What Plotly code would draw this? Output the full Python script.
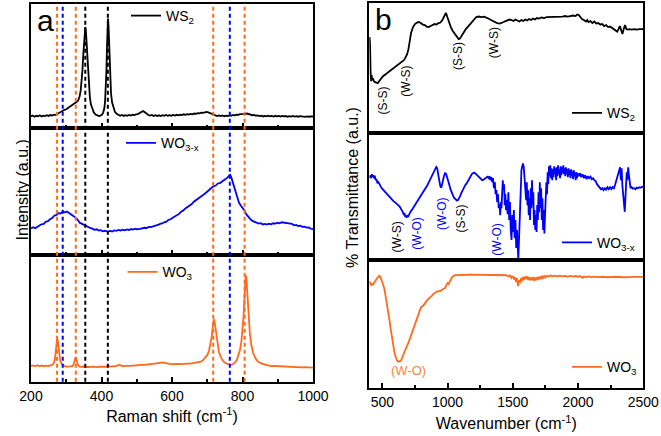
import plotly.graph_objects as go

W, H = 661, 436
ORANGE = "#FF6A1C"
BLUE = "#0000FF"
BLACK = "#000000"
FONT = "Arial, Liberation Sans, sans-serif"

# ---------------- Panel a : Raman (x = Raman shift cm-1, y = intensity a.u.) ----------------
ws2_raman = [(200,12),(205,12.8),(210,11.6),(215,12.5),(220,12.1),(225,13),(230,11.8),(235,12.6),(240,12.2),(245,13.1),
    (250,12.4),(255,13.3),(260,12.8),(265,13.6),(270,13.4),(275,14.5),(280,15.2),(285,16.4),(290,17.2),(295,18.5),
    (300,19.1),(305,20.3),(310,21),(315,22.4),(320,23.2),(325,24.8),(330,26.5),(334,28),(338,32),(341,38),(344,48),
    (346,58),(348,72),(350,86),(352,97),(354,101.5),(356,96),(358,82),(360,66),(362,52),(364,41),(367,31),(370,24),
    (374,19),(378,16),(383,13.8),(388,12.6),(393,12.2),(398,12.8),(402,14),(405,16),(408,20),(410,26),(412,38),(414,58),
    (415.5,80),(417,100),(418.5,110),(420,102),(421.5,86),(423,66),(425,48),(427,35),(430,26),(434,20),(438,16.5),
    (443,14.5),(448,13.2),(453,12.6),(458,13.3),(463,12.4),(468,13.1),(473,12.5),(478,13.4),(483,12.8),(488,13.6),
    (493,13.2),(498,13.9),(503,14.2),(508,15.3),(513,16.4),(518,17.2),(523,16),(528,14.4),(533,13.3),(538,12.7),
    (543,13.4),(548,12.4),(553,13.1),(558,12.3),(563,13),(568,12.2),(573,13.1),(578,12.5),(583,13.3),(588,12.6),
    (593,13.2),(598,12.5),(603,13.4),(608,12.8),(613,13.5),(618,13),(623,13.7),(628,13.2),(633,14),(638,13.5),
    (643,14.2),(648,13.7),(653,14.4),(658,14),(663,14.8),(668,14.4),(673,15.2),(678,14.9),(683,15.6),(688,15.4),
    (693,16.2),(698,16.4),(703,16),(708,15.2),(713,14.1),(718,13.2),(723,12.8),(728,12.3),(733,12.9),(738,12.2),
    (743,12.8),(748,12.1),(753,12.7),(758,12.2),(763,12.9),(768,12.6),(773,13.3),(778,13),(783,13.7),(788,13.4),
    (793,14.1),(798,14),(803,14.6),(808,14.4),(813,14.8),(818,14.2),(823,13.8),(828,13.1),(833,13.4),(838,12.6),
    (843,12.9),(848,12.2),(853,12.6),(858,11.9),(863,12.5),(868,12),(873,12.6),(878,11.9),(883,12.4),(888,11.8),
    (893,12.5),(898,12),(903,12.3),(908,11.7),(913,12.4),(918,11.9),(923,12.3),(928,11.6),(933,12.2),(938,11.8),
    (943,12.3),(948,11.7),(953,12.1),(958,11.6),(963,12.2),(968,11.8),(973,12.1),(978,11.5),(983,12),(988,11.6),
    (993,12),(998,11.5),(1000,11.8)]

wo3x_raman = [(200,26.5),(206,27.8),(212,26.9),(218,28.6),(224,29.5),(230,30.8),(236,31.2),(242,33.4),(248,34),
    (254,35.8),(260,37.1),(266,39.4),(272,40.2),(278,42),(284,41.6),(290,43.4),(296,42.8),(302,43.5),(308,41.7),
    (314,40.6),(320,39.2),(326,37.3),(332,35.6),(338,32.4),(344,31.2),(350,29.9),(356,29),(362,27.8),(368,27.1),
    (374,26.4),(380,25.2),(386,25.8),(392,24.6),(398,24.9),(404,23.8),(410,24.3),(418,23.3),(424,24.1),(430,23.6),
    (436,24.6),(442,24.2),(448,25.1),(454,24.4),(460,25.3),(466,24.7),(472,25.6),(478,25.1),(484,26),(490,25.4),
    (496,26.3),(502,25.8),(509,26.2),(516,26.9),(522,27.3),(528,27.1),(534,28.2),(540,28),(547,28.6),(554,29.6),
    (560,30.1),(566,31.2),(572,31.6),(578,32.8),(584,33.4),(590,35.2),(596,35.8),(602,37.4),(608,38.6),(614,40.1),
    (620,41.2),(626,43.4),(632,44.6),(638,46.7),(644,48.1),(650,49.5),(656,51),(662,53.4),(668,54.8),(674,56.9),
    (680,57.6),(686,59.8),(692,61.2),(698,62.9),(704,64.6),(710,66.1),(717,68.8),(724,69.6),(730,71.7),(736,72.1),
    (741,73.3),(746,74.8),(750,75.4),(754,77.2),(758,77.8),(762,79.6),(765,80.4),(768,78),(771,74.6),(774,71.4),
    (778,66.2),(782,61),(786,56),(790,52.4),(795,49.6),(800,47.1),(805,45),(810,41.2),(815,38.7),(821,36.5),
    (827,34.4),(833,33.6),(840,32.2),(846,31.5),(852,31.9),(858,30.6),(864,31.1),(869,30.5),(875,31.3),(881,30.8),
    (887,31.8),(893,31.4),(899,32.3),(905,31.7),(911,32.8),(916,32.5),(922,31.6),(928,32),(934,30.9),(940,31.2),
    (946,29.8),(952,30.1),(958,29.1),(964,29.4),(970,28.2),(976,28.5),(982,27.4),(988,27.6),(994,26.3),(1000,25.8)]

wo3_raman = [(200,15.7),(206,16.3),(212,15.4),(218,16.6),(224,15.6),(230,16.2),(236,15.5),(242,16.1),(248,15.6),
    (254,16),(258,16.6),(262,17.3),(265,19),(268,23),(270,29),(272,37),(274,43.3),(276,41),(278,33),(280,26),
    (283,21),(286,18.2),(290,16.6),(295,15.5),(300,15.2),(305,15),(310,15.3),(315,15.4),(319,16.2),(322,18.5),
    (324,21.5),(326,24.3),(328,23),(330,20),(333,17),(337,15.3),(342,14.8),(348,15.2),(354,14.7),(360,15),
    (366,14.6),(372,15.1),(378,14.8),(384,15.2),(390,14.7),(396,15.1),(402,14.9),(408,15.4),(414,15),(420,15.6),
    (426,15.1),(432,15.6),(438,15.4),(444,16.2),(450,17),(455,16.4),(460,15.5),(466,15.8),(472,15.6),(478,16.1),
    (484,15.9),(490,16.4),(496,16.1),(502,16.6),(508,16.4),(514,16.8),(520,16.9),(526,17.3),(532,17.2),(538,17.6),
    (544,17.9),(550,18.1),(556,18.3),(562,18.8),(568,19.2),(574,19.4),(580,18.8),(586,18.1),(592,17.8),(598,17.6),
    (604,17.9),(610,17.5),(616,17.8),(622,17.6),(628,17.9),(634,18),(640,17.9),(646,18.2),(652,18.1),(658,18.4),
    (664,18.6),(670,18.9),(676,19.3),(682,20.2),(688,21.6),(694,23.6),(700,26.6),(705,31),(709,37),(712,44),
    (715,53),(717,59),(719,62.7),(721,60),(723,54),(726,45),(729,37),(733,30),(738,25),(744,21),(750,19),
    (757,17.6),(765,16.8),(772,17.4),(778,19),(784,22),(789,26.5),(793,32),(797,41),(800,51),(803,66),(805,80),
    (807,95),(809,106.7),(811,104),(813,93),(815,79),(818,62),(821,48),(825,37),(830,29),(836,24),(843,20.5),
    (851,18.6),(860,17.4),(869,16.6),(878,16),(887,15.8),(896,15.5),(905,15.6),(914,15.2),(923,15.3),(932,14.9),
    (941,15),(950,14.7),(959,14.8),(968,14.4),(977,14.6),(986,14.2),(994,14.3),(1000,14.1)]

raman_ref_shift = [274, 327, 717, 806, 290, 764, 354, 418]
raman_ref_color = [ORANGE, ORANGE, ORANGE, ORANGE, BLUE, BLUE, BLACK, BLACK]

# ---------------- Panel b : FTIR (x = wavenumber cm-1, y = % transmittance a.u.) ----------------
ws2_ftir = [(402,96),(406,88),(410,60),(414,52),(418,58),(422,53),(428,55),(435,52),(445,51),(455,50.5),(465,50),
    (475,52),(490,55),(505,57),(520,58.5),(535,60),(550,61),(565,63),(580,64),(595,66),(610,67),(625,69),(640,70),
    (655,72),(665,73),(675,75),(690,79),(700,84),(710,93),(720,100),(735,106),(750,109),(765,110.5),(780,111),
    (795,110),(810,108.5),(825,108),(840,106.5),(855,106),(870,107),(885,108.5),(900,109),(915,108.5),(930,110),
    (945,110.5),(960,113),(975,117),(988,120),(998,116),(1010,111),(1025,106),(1040,102),(1055,99),(1070,96),
    (1085,94),(1095,94.5),(1110,98),(1125,101.5),(1140,104),(1160,107),(1180,110),(1200,113),(1220,116),
    (1240,116.5),(1260,116),(1280,116.3),(1300,115.5),(1320,114),(1340,112.5),(1360,111),(1380,110),(1400,109.5),
    (1415,110),(1430,111),(1445,112),(1460,112.5),(1475,113.5),(1490,113),(1505,112),(1520,113.5),(1535,112.5),
    (1550,111.5),(1565,113),(1580,112),(1595,113.5),(1610,112.5),(1625,114),(1640,113),(1655,114.5),(1670,113.5),
    (1685,115),(1700,114.5),(1720,115.5),(1740,115),(1760,116),(1780,116),(1800,116.5),(1820,116),(1840,116.5),
    (1860,116),(1880,116.5),(1900,117),(1920,116.5),(1940,117),(1960,117.5),(1980,117),(1995,118.5),(2005,118),
    (2015,116),(2030,114),(2045,113),(2060,111.5),(2070,113),(2080,111),(2095,112),(2110,110),(2125,111.5),
    (2140,109.5),(2155,110),(2170,108.5),(2185,109),(2200,107),(2215,108),(2230,106),(2245,106.5),(2260,105),
    (2275,104),(2290,102.5),(2300,101.5),(2310,104),(2320,107),(2330,103),(2340,99),(2350,104),(2360,108),
    (2370,104),(2380,103.5),(2395,104),(2410,103.5),(2430,104),(2450,103.5),(2470,104),(2500,104)]

wo3x_ftir = [(400,84),(405,83),(410,85),(415,82),(420,86),(425,83.5),(430,85),(436,82),(442,84.5),(448,80),(455,81),
    (462,77.5),(470,78),(478,75),(486,74),(495,72),(505,70.5),(515,69),(525,67),(535,66),(545,64.5),(555,63.5),
    (565,62),(575,60.5),(585,59),(595,58),(605,57),(615,56),(625,54.5),(635,53),(645,51),(655,48.5),(663,46),
    (670,47),(676,43),(682,44.5),(688,42.5),(694,45),(700,44),(708,47),(716,48.5),(725,50),(735,52),(745,54),
    (755,56),(765,58),(775,60),(785,62),(795,64),(805,66.5),(815,68.5),(825,71),(835,73),(845,75),(855,77.5),
    (865,80),(875,82.5),(885,85),(895,88),(905,91.5),(913,93.3),(920,92),(928,86),(936,79),(944,74),(952,72.5),
    (958,75),(965,80),(972,84),(980,87),(988,86.5),(995,84),(1003,80),(1012,76),(1022,71),(1032,67),(1042,64.5),
    (1052,62),(1062,60.5),(1072,59.5),(1080,60),(1088,61.5),(1096,64),(1105,67),(1115,70),(1125,73),(1135,75),
    (1145,76.5),(1155,79),(1165,82),(1175,84.5),(1185,86),(1195,87.2),(1205,87.5),(1215,86.5),(1225,85),
    (1235,83.5),(1245,82),(1255,81.5),(1265,80),(1275,80.5),(1285,81.5),(1295,82.5),(1305,83.5),(1315,82),
    (1322,84),(1328,80),(1335,83),(1342,78),(1348,82),(1355,72),(1362,78),(1368,66),(1374,70),(1380,58),(1386,66),
    (1392,52),(1398,56),(1403,45),(1408,58),(1413,52),(1418,72),(1423,80),(1428,70),(1433,76),(1438,55),(1443,66),
    (1448,50),(1454,60),(1460,46),(1466,68),(1472,40),(1478,58),(1484,30),(1490,20),(1496,45),(1502,28),(1508,50),
    (1514,22),(1520,40),(1526,12),(1532,30),(1538,5),(1542,0),(1546,15),(1550,35),(1555,60),(1560,80),(1566,90),
    (1572,94),(1578,96.7),(1584,93),(1590,80),(1596,70),(1602,60),(1607,78),(1612,55),(1617,70),(1622,45),
    (1627,62),(1632,40),(1637,72),(1642,52),(1647,80),(1652,55),(1657,68),(1662,35),(1667,50),(1672,30),(1677,45),
    (1682,28),(1687,55),(1692,40),(1697,68),(1702,48),(1707,78),(1712,52),(1717,72),(1722,40),(1727,62),(1732,30),
    (1737,50),(1742,26.7),(1747,45),(1752,60),(1757,78),(1762,66),(1767,88),(1772,76),(1777,94),(1782,84),
    (1787,95),(1792,82),(1797,92),(1802,80),(1807,91),(1812,83),(1817,94),(1822,86),(1827,92),(1832,80),(1837,93),
    (1842,84),(1847,95),(1852,86),(1857,91),(1862,82),(1867,94),(1872,85),(1877,93),(1882,87),(1887,95),(1892,86),
    (1897,92),(1902,84),(1907,93),(1912,86),(1917,91),(1922,83),(1927,92),(1932,85),(1937,90),(1942,82),(1947,91),
    (1952,84),(1957,89),(1962,81),(1967,90),(1972,84),(1977,88),(1982,80),(1987,88),(1992,82),(1997,87),(2005,84),
    (2015,87),(2025,83),(2035,86),(2045,82),(2055,85),(2065,81),(2075,84),(2085,82),(2095,83.5),(2105,81),
    (2115,82),(2125,80),(2135,79),(2145,76),(2155,74),(2165,73),(2175,71),(2185,72),(2195,70),(2205,72),
    (2215,70.5),(2225,73),(2235,71),(2245,73),(2255,71),(2265,73),(2275,72),(2285,76),(2295,80),(2305,85),
    (2315,90),(2322,93),(2328,80),(2334,92),(2340,74),(2347,62),(2353,55),(2358,48.3),(2363,62),(2368,78),
    (2373,88),(2378,80),(2384,93),(2390,85),(2396,75),(2402,72),(2410,73),(2420,71.5),(2430,72),(2440,71),
    (2450,72.5),(2460,72),(2470,73),(2480,72.5),(2490,73.3),(2500,73.5)]

wo3_ftir = [(402,106.6),(408,104),(414,103),(420,104),(428,103.3),(436,105),(444,107),(452,109),(460,110),(468,111),
    (476,112.3),(484,111.5),(492,108.5),(500,106),(507,104),(514,100),(521,95),(528,90),(535,85),(542,80),(549,74),
    (556,67),(563,60),(570,53),(577,47),(584,42),(591,37),(598,33),(605,30),(612,28),(620,26.6),(628,26.8),
    (636,27),(644,28),(652,30),(660,33),(668,36),(676,39),(684,41),(692,43),(700,45.5),(710,49),(720,53),(730,57),
    (740,60),(750,63),(760,66),(770,70),(780,75),(790,79),(800,81.6),(810,82),(820,84),(830,86),(840,87.5),
    (850,89),(860,90),(870,91),(880,92.5),(890,94),(900,95),(910,96),(920,96.6),(930,96.8),(940,97),(950,97.5),
    (960,98.5),(970,99.5),(980,100),(990,103),(1000,105),(1008,104),(1015,106),(1022,108.5),(1030,110),
    (1040,111.5),(1050,112.3),(1060,112.8),(1075,113),(1090,113.2),(1110,113.3),(1130,113.4),(1150,113.3),
    (1170,113.5),(1190,113.4),(1210,113.5),(1230,113.3),(1250,113.5),(1270,113.2),(1290,113.4),(1310,112.8),
    (1330,113.3),(1350,112.7),(1370,113),(1390,112.5),(1410,112.9),(1430,112.2),(1450,112.8),(1470,111.5),
    (1480,112.5),(1490,110),(1500,112),(1510,108.5),(1518,111),(1525,106),(1532,110),(1540,102),(1547,108),
    (1555,105),(1562,110),(1570,107),(1578,111),(1586,108.5),(1594,111.5),(1602,109),(1610,111.8),(1618,108),
    (1626,111),(1634,107.5),(1642,110.5),(1650,108),(1658,111),(1666,107),(1674,110.5),(1682,108),(1690,111),
    (1698,108.5),(1706,111.5),(1714,109),(1722,112),(1730,110),(1740,112),(1750,110.5),(1760,112.3),(1775,111.5),
    (1790,112.5),(1805,111.8),(1820,112.4),(1840,111.7),(1860,112.3),(1880,111.6),(1900,112.2),(1920,111.5),
    (1940,112.2),(1960,111.4),(1980,112),(2000,111.3),(2020,111.8),(2035,110.2),(2045,111.5),(2060,111),
    (2080,111.6),(2100,111),(2130,111.4),(2160,110.9),(2190,111.3),(2220,110.8),(2250,111.2),(2280,111),
    (2310,111.3),(2340,110.8),(2370,111.2),(2400,111),(2430,111.2),(2460,111),(2500,111.1)]

# band assignments: (text, wavenumber, transmittance, color, panel row)
ftir_labels = [("(S-S)", 503, 32.5, BLACK, 4), ("(W-S)", 681, 52.5, BLACK, 4), ("(S-S)", 1082, 77.3, BLACK, 4),
    ("(W-S)", 1356, 90, BLACK, 4), ("(W-S)", 610, 23.3, BLACK, 5), ("(W-O)", 768, 26.7, BLUE, 5),
    ("(W-O)", 962, 45.8, BLUE, 5), ("(S-S)", 1103, 41.7, BLACK, 5), ("(W-O)", 1376, 20, BLUE, 5)]
wo3_ftir_label = ("(W-O)", 699, 17.6, ORANGE, 6)

# ---------------- layout helpers (pixel geometry) ----------------
def fx(p):
    return p / W

def fy(p):
    return 1 - p / H

a_cols = (31, 313)
b_cols = (369.3, 643.3)
rows = {1: (3.5, 128.3), 2: (128.3, 255), 3: (255, 381.7),
        4: (3, 133.3), 5: (133.3, 260), 6: (260, 388.3)}
yranges = {1: 125, 2: 127, 3: 127, 4: 130, 5: 127, 6: 128}

fig = go.Figure()

series = [
    (ws2_raman, 1, BLACK, "WS<sub>2</sub>", "legend"),
    (wo3x_raman, 2, BLUE, "WO<sub>3-x</sub>", "legend2"),
    (wo3_raman, 3, ORANGE, "WO<sub>3</sub>", "legend3"),
    (ws2_ftir, 4, BLACK, "WS<sub>2</sub>", "legend4"),
    (wo3x_ftir, 5, BLUE, "WO<sub>3-x</sub>", "legend5"),
    (wo3_ftir, 6, ORANGE, "WO<sub>3</sub>", "legend6"),
]
for data, i, color, name, leg in series:
    fig.add_trace(go.Scatter(
        x=[p[0] for p in data], y=[p[1] for p in data], mode="lines",
        line=dict(color=color, width=1.8), name=name,
        xaxis="x" if i == 1 else f"x{i}", yaxis="y" if i == 1 else f"y{i}",
        legend=leg, showlegend=True))

layout = dict(width=W, height=H, margin=dict(l=0, r=0, t=0, b=0),
              paper_bgcolor="white", plot_bgcolor="rgba(0,0,0,0)",
              font=dict(family=FONT, color="black", size=13.5))

for i in range(1, 7):
    xk = "xaxis" if i == 1 else f"xaxis{i}"
    yk = "yaxis" if i == 1 else f"yaxis{i}"
    cols = a_cols if i <= 3 else b_cols
    top, bot = rows[i]
    is_a = i <= 3
    bottom_row = i in (3, 6)
    xa = dict(domain=[fx(cols[0]), fx(cols[1])], anchor="y" if i == 1 else f"y{i}",
              range=[200, 1000] if is_a else [400, 2500],
              showline=True, mirror=True, linecolor="black", linewidth=2,
              showgrid=False, zeroline=False, automargin=False,
              tickmode="linear", tick0=200 if is_a else 500, dtick=200 if is_a else 500,
              showticklabels=bottom_row, tickfont=dict(size=14, family=FONT))
    if is_a or bottom_row:
        xa.update(ticks="inside", ticklen=5, tickwidth=1.5, tickcolor="black",
                  minor=dict(dtick=100 if is_a else 250, ticks="inside", ticklen=3,
                             tickwidth=1.5, tickcolor="black"))
    else:
        xa.update(ticks="")
    if i == 3:
        xa["title"] = dict(text="Raman shift (cm<sup>-1</sup>)", font=dict(size=16, family=FONT), standoff=8)
    if i == 6:
        xa["title"] = dict(text="Wavenumber (cm<sup>-1</sup>)", font=dict(size=16, family=FONT), standoff=9)
    ya = dict(domain=[fy(bot), fy(top)], anchor="x" if i == 1 else f"x{i}",
              range=[0, yranges[i]], showline=True, mirror=True, linecolor="black", linewidth=2,
              showgrid=False, zeroline=False, showticklabels=False, ticks="", automargin=False)
    layout[xk] = xa
    layout[yk] = ya

# legends (one per sub-panel)
legend_pos = {"legend": (126, 16), "legend2": (121, 143.3), "legend3": (122.5, 272.3),
              "legend4": (567, 113.3), "legend5": (557, 242.7), "legend6": (567, 367.3)}
for k, (lx, ly) in legend_pos.items():
    layout[k] = dict(x=fx(lx), y=fy(ly), xanchor="left", yanchor="middle",
                     bgcolor="rgba(0,0,0,0)", borderwidth=0, font=dict(size=14, family=FONT),
                     itemwidth=30, tracegroupgap=0)

fig.update_layout(**layout)

# dashed reference lines across the whole Raman panel
for xv, col in zip(raman_ref_shift, raman_ref_color):
    fig.add_shape(type="line", xref="x", yref="paper", x0=xv, x1=xv,
                  y0=fy(rows[3][1]), y1=fy(rows[1][0]),
                  line=dict(color=col, width=2, dash="4px,3px"), layer="above")

# panel letters
fig.add_annotation(text="a", x=fx(35), y=fy(2), xref="paper", yref="paper", xanchor="left", yanchor="top",
                   showarrow=False, font=dict(size=30, family=FONT))
fig.add_annotation(text="b", x=fx(373), y=fy(1), xref="paper", yref="paper", xanchor="left", yanchor="top",
                   showarrow=False, font=dict(size=30, family=FONT))

# y-axis titles
fig.add_annotation(text="Intensity (a.u.)", x=fx(12), y=fy(190), xref="paper", yref="paper",
                   textangle=-90, showarrow=False, font=dict(size=16, family=FONT))
fig.add_annotation(text="% Transmittance (a.u.)", x=fx(352), y=fy(188), xref="paper", yref="paper",
                   textangle=-90, showarrow=False, font=dict(size=16, family=FONT))

# FTIR band labels
for txt, xv, yv, col, i in ftir_labels:
    fig.add_annotation(text=txt, x=xv, y=yv, xref=f"x{i}", yref=f"y{i}", textangle=-90,
                       showarrow=False, font=dict(size=12, family=FONT, color=col))
txt, xv, yv, col, i = wo3_ftir_label
fig.add_annotation(text=txt, x=xv, y=yv, xref=f"x{i}", yref=f"y{i}",
                   showarrow=False, font=dict(size=13, family=FONT, color="#F7873A"))

fig.write_html("out.html")
